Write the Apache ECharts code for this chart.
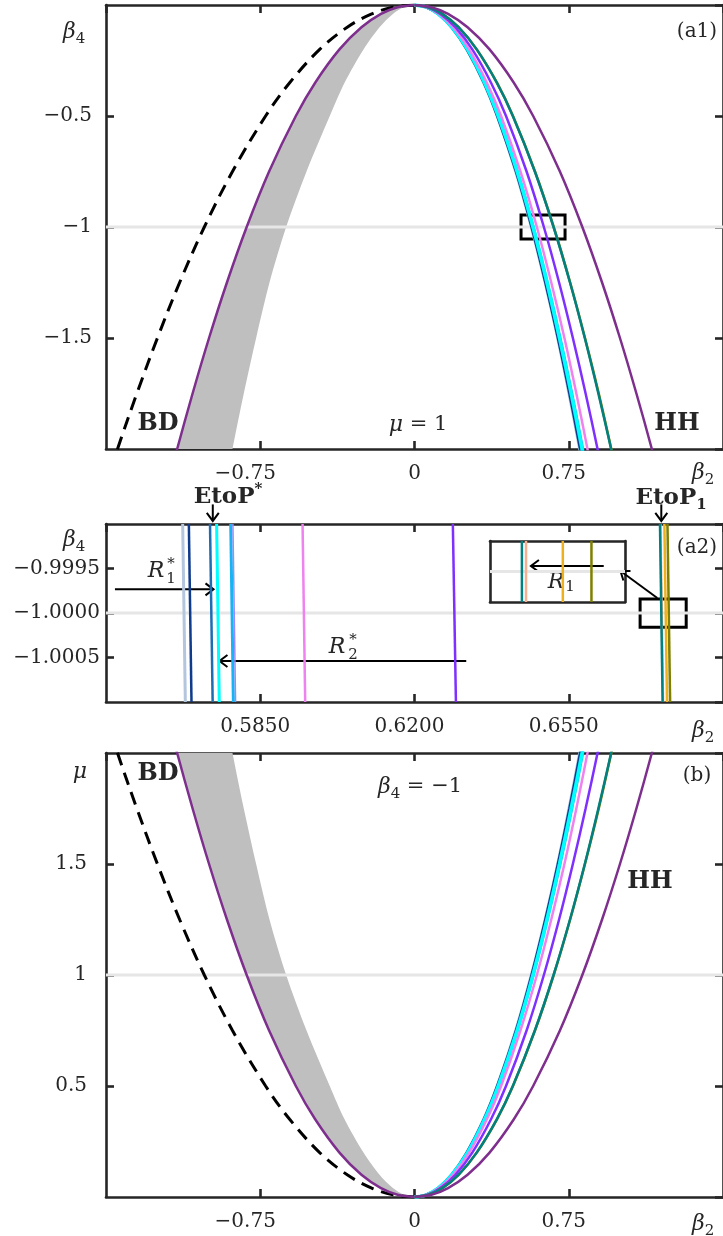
<!DOCTYPE html>
<html>
<head>
<meta charset="utf-8">
<script src="https://cdn.jsdelivr.net/npm/echarts@6/dist/echarts.min.js"></script>
<style>
  html, body { margin: 0; padding: 0; background: #fff; }
  #chart { width: 723px; height: 1236px; }
</style>
</head>
<body>
<div id="chart"></div>
<script>
// ---------------------------------------------------------------------------
// Data
// Sample heights along each boundary: |beta4| in panel (a1) (mu = 1),
// mu in panel (b) (beta4 = -1).
const levels = [0, 0.01, 0.04, 0.1, 0.2, 0.35, 0.5, 0.75, 1, 1.25, 1.5, 1.75, 2, 2.2];

// beta2 position of each boundary at those heights
const bdCurve      = [0, -0.104, -0.208, -0.327, -0.461, -0.607, -0.724, -0.885, -1.022, -1.142, -1.250, -1.350, -1.444, -1.514];
const hhLeft       = [0, -0.082, -0.163, -0.258, -0.365, -0.483, -0.577, -0.707, -0.816, -0.912, -0.999, -1.079, -1.154, -1.210];
const bandEdge     = [0, -0.052, -0.105, -0.170, -0.248, -0.340, -0.412, -0.525, -0.624, -0.705, -0.770, -0.830, -0.885, -0.925];
const lightSteel   = [0, 0.057, 0.114, 0.180, 0.254, 0.336, 0.402, 0.492, 0.568, 0.635, 0.696, 0.751, 0.803, 0.842];
const navyCurve    = [0, 0.057, 0.114, 0.180, 0.254, 0.337, 0.402, 0.493, 0.569, 0.636, 0.697, 0.753, 0.805, 0.844];
const steelCurve   = [0, 0.057, 0.115, 0.182, 0.257, 0.340, 0.406, 0.497, 0.574, 0.642, 0.703, 0.759, 0.812, 0.851];
const cyanCurve    = [0, 0.058, 0.115, 0.182, 0.258, 0.341, 0.407, 0.499, 0.576, 0.644, 0.705, 0.762, 0.815, 0.854];
const skyCurve     = [0, 0.058, 0.116, 0.183, 0.259, 0.343, 0.409, 0.501, 0.579, 0.647, 0.709, 0.766, 0.819, 0.859];
const violetCurve  = [0, 0.060, 0.119, 0.188, 0.266, 0.352, 0.421, 0.515, 0.595, 0.665, 0.729, 0.787, 0.841, 0.882];
const purpleCurve  = [0, 0.063, 0.126, 0.199, 0.281, 0.372, 0.445, 0.545, 0.629, 0.703, 0.770, 0.832, 0.890, 0.933];
const tealCurve    = [0, 0.068, 0.135, 0.214, 0.302, 0.400, 0.478, 0.585, 0.676, 0.756, 0.828, 0.894, 0.956, 1.003];
const oliveCurve   = [0, 0.068, 0.135, 0.214, 0.303, 0.401, 0.479, 0.586, 0.677, 0.757, 0.829, 0.896, 0.957, 1.004];
const hhRight      = [0, 0.082, 0.163, 0.258, 0.365, 0.483, 0.577, 0.707, 0.816, 0.912, 0.999, 1.079, 1.154, 1.210];

// Panel (a2): beta2 of each boundary at the top (beta4 = -0.999) and bottom (beta4 = -1.001)
const a2Names  = ['lightSteel', 'navy', 'steel', 'sky', 'periwinkle', 'cyan', 'violet', 'purple', 'salmon', 'gold', 'olive', 'teal'];
const a2Top    = [0.5674, 0.5688, 0.5736, 0.5783, 0.5788, 0.5751, 0.5946, 0.6287, 0.6758, 0.6767, 0.6774, 0.6757];
const a2Bottom = [0.5680, 0.5694, 0.5742, 0.5789, 0.5794, 0.5757, 0.5952, 0.6294, 0.6764, 0.6773, 0.6780, 0.6763];
// Magnified view of the EtoP1 cluster at beta4 = -1
const insetNames  = ['salmon', 'gold', 'olive', 'teal'];
const insetValues = [0.6761, 0.6770, 0.6777, 0.6760];

// Tick values
const a1XTicks = [-1.5, 0.75];   // min, interval
const a2XTicks = [0.55, 0.035];
const a1YTicks = [-2, 0.5];
const a2YTicks = [-1.001, 0.0005];
const bYTicks  = [0, 0.5];

// Annotation geometry in data units
const a1Box       = [0.518, -1.054, 0.732, -0.946];
const a2SmallBox  = [0.67119, -1.000161, 0.68165, -0.999843];
const a2Arrows = [
  [0.55203, -0.999734, 0.57439, -0.999734],   // R1*
  [0.63174, -1.000539, 0.57574, -1.000539],   // R2*
  [0.67509, -0.999831, 0.66674, -0.999528],   // to magnified view
  [0.57423, -0.998780, 0.57423, -0.998966],   // EtoP*
  [0.67600, -0.998780, 0.67600, -0.998966]    // EtoP1
];
const insetArrow = [0.67800, -0.999982, 0.67622, -0.999982];  // R1

// ---------------------------------------------------------------------------
// Styling
const INK = '#262626';
const SERIF = 'DejaVu Serif';
const colors = {
  lightSteel: '#b3c6de', navy: '#0f3b8c', steel: '#1e6db3', cyan: '#00ffff',
  sky: '#17b3f3', periwinkle: '#958dff', violet: '#ee82ee', purple: '#7f2fff',
  teal: '#008080', salmon: '#f4b08f', gold: '#edb120', olive: '#808000',
  hh: '#7e2f8e', band: '#bfbfbf', ref: '#e6e6e6'
};
const widths = {
  lightSteel: 3, navy: 2.5, steel: 2.5, cyan: 3, sky: 3, periwinkle: 1.5,
  violet: 2.5, purple: 2.5, teal: 2.5, salmon: 2.5, gold: 2.5, olive: 2.5
};

const chart = echarts.init(document.getElementById('chart'));

const grids = [
  { left: 106, top: 5,   width: 620, height: 444 },   // (a1)
  { left: 106, top: 524, width: 620, height: 178 },   // (a2)
  { left: 106, top: 753, width: 620, height: 444 },   // (b)
  { left: 490, top: 541, width: 135, height: 61 }     // magnified view inside (a2)
];

const tickFont = { fontFamily: SERIF, fontSize: 20, color: INK };
const lineBase = { show: true, onZero: false, lineStyle: { color: INK, width: 2.6 } };
const tickBase = { show: true, inside: true, length: 8, lineStyle: { color: INK, width: 2.6 } };

function xFmt(v) {
  if (Math.abs(v) < 1e-9) return '{z|0}';
  const s = String(+v.toFixed(2));
  return v < 0 ? '{m|\u2212' + s.slice(1) + '}' : '{p|' + s + '}';
}
const xRich = {
  z: { fontFamily: SERIF, fontSize: 20, color: INK },
  m: { fontFamily: SERIF, fontSize: 20, color: INK, padding: [0, 30, 0, 0] },
  p: { fontFamily: SERIF, fontSize: 20, color: INK, padding: [0, 10, 0, 0] }
};

function makeX(grid, min, max, interval, pos, labels, fmt, margin, ticks) {
  return {
    type: 'value', gridIndex: grid, position: pos, min, max, interval,
    axisLine: lineBase, axisTick: ticks === false ? { show: false } : tickBase,
    splitLine: { show: false },
    axisLabel: labels ? Object.assign({ show: true, formatter: fmt, margin, rich: xRich,
      showMinLabel: false, showMaxLabel: false }, tickFont) : { show: false }
  };
}
function makeY(grid, min, max, interval, pos, labels, fmt, margin, ticks) {
  return {
    type: 'value', gridIndex: grid, position: pos, min, max, interval,
    axisLine: lineBase, axisTick: ticks === false ? { show: false } : tickBase,
    splitLine: { show: false },
    axisLabel: labels ? Object.assign({ show: true, formatter: fmt, margin,
      showMinLabel: false, showMaxLabel: false }, tickFont) : { show: false }
  };
}

const a2XFmt = v => '{p|' + v.toFixed(4) + '}';
const minus = v => String(+v.toFixed(4)).replace('-', '\u2212');
const a2YFmt = v => v.toFixed(4).replace('-', '\u2212');

const xAxis = [
  makeX(0, a1XTicks[0], -a1XTicks[0], a1XTicks[1], 'bottom', true, xFmt, 15),
  makeX(0, a1XTicks[0], -a1XTicks[0], a1XTicks[1], 'top', false),
  makeX(1, a2XTicks[0], 0.69, a2XTicks[1], 'bottom', true, a2XFmt, 15),
  makeX(1, a2XTicks[0], 0.69, a2XTicks[1], 'top', false),
  makeX(2, a1XTicks[0], -a1XTicks[0], a1XTicks[1], 'bottom', true, xFmt, 15),
  makeX(2, a1XTicks[0], -a1XTicks[0], a1XTicks[1], 'top', false),
  makeX(3, 0.67522, 0.67852, 0.001, 'bottom', false, null, 0, false),
  makeX(3, 0.67522, 0.67852, 0.001, 'top', false, null, 0, false)
];
const yAxis = [
  makeY(0, a1YTicks[0], 0, a1YTicks[1], 'left', true, minus, 14),
  makeY(0, a1YTicks[0], 0, a1YTicks[1], 'right', false),
  makeY(1, a2YTicks[0], -0.999, a2YTicks[1], 'left', true, a2YFmt, 6),
  makeY(1, a2YTicks[0], -0.999, a2YTicks[1], 'right', false),
  makeY(2, bYTicks[0], 2, bYTicks[1], 'left', true, minus, 19),
  makeY(2, bYTicks[0], 2, bYTicks[1], 'right', false),
  makeY(3, -1.0001, -0.9999, 0.0001, 'left', false, null, 0, false),
  makeY(3, -1.0001, -0.9999, 0.0001, 'right', false, null, 0, false)
];

const A1 = 0, A2 = 2, B = 4, INSET = 6;
const series = [];

function curve(ax, xs, sign, color, width, type) {
  series.push({
    type: 'line', xAxisIndex: ax, yAxisIndex: ax, silent: true, animation: false,
    data: levels.map((l, i) => [xs[i], sign * l]),
    smooth: 0.35, symbol: 'none', clip: true,
    lineStyle: { color, width, type: type || 'solid', cap: 'butt' }
  });
}
function segment(ax, pts, color, width) {
  series.push({
    type: 'line', xAxisIndex: ax, yAxisIndex: ax, silent: true, animation: false,
    data: pts, symbol: 'none', clip: true,
    lineStyle: { color, width, cap: 'butt' }
  });
}
function band(ax, sign) {
  series.push({
    type: 'custom', xAxisIndex: ax, yAxisIndex: ax, silent: true, animation: false, clip: true,
    data: [[0, 0]],
    renderItem(params, api) {
      const pts = [];
      levels.forEach((l, i) => pts.push(api.coord([hhLeft[i], sign * l])));
      for (let i = levels.length - 1; i >= 0; i--) pts.push(api.coord([bandEdge[i], sign * levels[i]]));
      return { type: 'polygon', shape: { points: pts, smooth: 0.3 }, style: { fill: colors.band } };
    }
  });
}
function boxes(ax, list, width) {
  series.push({
    type: 'custom', xAxisIndex: ax, yAxisIndex: ax, silent: true, animation: false, clip: false,
    data: list,
    renderItem(params, api) {
      const p1 = api.coord([api.value(0), api.value(1)]);
      const p2 = api.coord([api.value(2), api.value(3)]);
      return {
        type: 'rect',
        shape: { x: Math.min(p1[0], p2[0]), y: Math.min(p1[1], p2[1]),
                 width: Math.abs(p2[0] - p1[0]), height: Math.abs(p2[1] - p1[1]) },
        style: { fill: null, stroke: '#000', lineWidth: width }
      };
    }
  });
}
function arrows(ax, list) {
  series.push({
    type: 'custom', xAxisIndex: ax, yAxisIndex: ax, silent: true, animation: false, clip: false,
    data: list,
    renderItem(params, api) {
      const p1 = api.coord([api.value(0), api.value(1)]);
      const p2 = api.coord([api.value(2), api.value(3)]);
      const a = Math.atan2(p2[1] - p1[1], p2[0] - p1[0]);
      const L = 8, W = 6;
      const bx = p2[0] - L * Math.cos(a), by = p2[1] - L * Math.sin(a);
      const nx = -Math.sin(a), ny = Math.cos(a);
      return {
        type: 'group',
        children: [
          { type: 'line', shape: { x1: p1[0], y1: p1[1], x2: p2[0], y2: p2[1] },
            style: { stroke: '#000', lineWidth: 2 } },
          { type: 'polyline',
            shape: { points: [[bx + W * nx, by + W * ny], [p2[0], p2[1]], [bx - W * nx, by - W * ny]] },
            style: { stroke: '#000', lineWidth: 2, fill: null } }
        ]
      };
    }
  });
}

// Panels (a1) and (b): the same boundaries, drawn against beta4 = -level and mu = level
function bigPanel(ax, sign, refY) {
  band(ax, sign);
  segment(ax, [[-1.5, refY], [1.5, refY]], colors.ref, 3);
  curve(ax, bdCurve, sign, '#000', 3, [13, 8]);
  curve(ax, hhLeft, sign, colors.hh, 2.5);
  curve(ax, lightSteel, sign, colors.lightSteel, 3);
  curve(ax, navyCurve, sign, colors.navy, 2.5);
  curve(ax, steelCurve, sign, colors.steel, 2.5);
  curve(ax, skyCurve, sign, colors.sky, 2.5);
  curve(ax, cyanCurve, sign, colors.cyan, 3.5);
  curve(ax, violetCurve, sign, colors.violet, 2.5);
  curve(ax, purpleCurve, sign, colors.purple, 2.5);
  curve(ax, oliveCurve, sign, colors.olive, 2.5);
  curve(ax, tealCurve, sign, colors.teal, 2.5);
  curve(ax, hhRight, sign, colors.hh, 2.5);
}
bigPanel(A1, -1, -1);
boxes(A1, [a1Box], 3);
bigPanel(B, 1, 1);

// Panel (a2)
segment(A2, [[0.55, -1], [0.69, -1]], colors.ref, 3);
a2Names.forEach((n, i) => segment(A2, [[a2Top[i], -0.999], [a2Bottom[i], -1.001]], colors[n], widths[n]));
boxes(A2, [a2SmallBox], 3);
arrows(A2, a2Arrows);

// Magnified view
segment(INSET, [[0.67522, -1], [0.67852, -1]], colors.ref, 3);
insetNames.forEach((n, i) => segment(INSET, [[insetValues[i], -1.0001], [insetValues[i], -0.9999]], colors[n], 2.5));
arrows(INSET, [insetArrow]);

// ---------------------------------------------------------------------------
// Text
const rich = {
  i: { fontFamily: SERIF, fontStyle: 'italic', fontSize: 22, lineHeight: 30, verticalAlign: 'middle', fill: INK },
  n: { fontFamily: SERIF, fontSize: 21, lineHeight: 30, verticalAlign: 'middle', fill: INK },
  s: { fontFamily: SERIF, fontSize: 15, verticalAlign: 'bottom', fill: INK },
  b: { fontFamily: SERIF, fontWeight: 'bold', fontSize: 23, lineHeight: 30, verticalAlign: 'middle', fill: INK },
  bs: { fontFamily: SERIF, fontWeight: 'bold', fontSize: 15, verticalAlign: 'bottom', fill: INK },
  bp: { fontFamily: SERIF, fontWeight: 'bold', fontSize: 15, verticalAlign: 'top', fill: INK }
};
function txt(x, y, text, align, extra) {
  return {
    type: 'text', x, y, silent: true,
    style: Object.assign({ text, rich, align: align || 'center', verticalAlign: 'middle', fill: INK,
      fontFamily: SERIF, fontSize: 20 }, extra || {})
  };
}
const bold = { fontWeight: 'bold', fontSize: 24 };
const italic = { fontStyle: 'italic', fontSize: 22 };

const graphics = [
  // (a1)
  txt(63, 32, '{i|β}{s|4}', 'left'),
  txt(697, 32, '(a1)'),
  txt(158, 424, 'BD', 'center', bold),
  txt(418, 425, '{i|μ}{n| = 1}'),
  txt(677, 424, 'HH', 'center', bold),
  txt(692, 473, '{i|β}{s|2}', 'left'),
  // (a2)
  txt(63, 540, '{i|β}{s|4}', 'left'),
  txt(228, 497, '{b|EtoP}{bp|*}'),
  txt(671, 498, '{b|EtoP}{bs|1}'),
  txt(697, 548, '(a2)'),
  txt(156, 571, 'R', 'center', italic),
  txt(171, 564, '*', 'center', { fontSize: 15 }),
  txt(171, 579, '1', 'center', { fontSize: 15 }),
  txt(337, 647, 'R', 'center', italic),
  txt(353, 640, '*', 'center', { fontSize: 15 }),
  txt(353, 655, '2', 'center', { fontSize: 15 }),
  txt(556, 582, 'R', 'center', italic),
  txt(570, 587, '1', 'center', { fontSize: 15 }),
  txt(692, 731, '{i|β}{s|2}', 'left'),
  // (b)
  txt(80, 772, 'μ', 'center', italic),
  txt(158, 774, 'BD', 'center', bold),
  txt(420, 787, '{i|β}{s|4}{n| = \u22121}'),
  txt(697, 776, '(b)'),
  txt(650, 882, 'HH', 'center', bold),
  txt(692, 1224, '{i|β}{s|2}', 'left')
];

chart.setOption({
  backgroundColor: '#fff',
  animation: false,
  grid: grids,
  xAxis,
  yAxis,
  series,
  graphic: { elements: graphics }
});
</script>
</body>
</html>
